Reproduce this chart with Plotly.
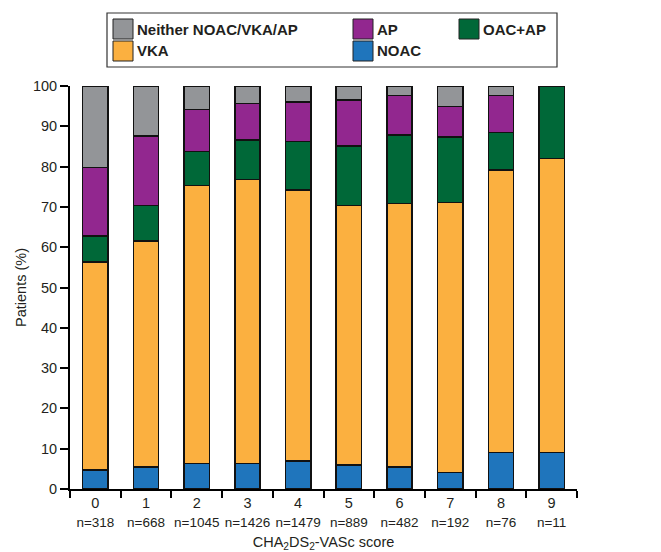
import plotly.graph_objects as go

scores = ["0", "1", "2", "3", "4", "5", "6", "7", "8", "9"]
n_patients = [318, 668, 1045, 1426, 1479, 889, 482, 192, 76, 11]

noac = [4.7, 5.5, 6.3, 6.3, 7.0, 6.0, 5.5, 4.1, 9.1, 9.1]
vka = [51.6, 56.1, 69.0, 70.5, 67.2, 64.3, 65.4, 67.0, 70.1, 72.9]
oac_ap = [6.5, 8.7, 8.4, 9.8, 12.0, 14.8, 16.9, 16.3, 9.3, 18.0]
ap = [17.0, 17.3, 10.5, 9.1, 9.8, 11.4, 9.8, 7.5, 9.1, 0.0]
neither = [20.2, 12.4, 5.8, 4.3, 4.0, 3.5, 2.4, 5.1, 2.4, 0.0]

series = [
    ("NOAC", noac, "#1F75BC"),
    ("VKA", vka, "#FBB040"),
    ("OAC+AP", oac_ap, "#006838"),
    ("AP", ap, "#92278F"),
    ("Neither NOAC/VKA/AP", neither, "#939598"),
]

TXT = "#231F20"
FONT = "Liberation Sans, Arial, sans-serif"

# page body has an 8px margin; the figure is sized to fill the rest of the window
OFF = 8
W, H = 661 - OFF, 552 - OFF
l, r, t, b = 70 - OFF, 84, 86 - OFF, 63
pw, ph = W - l - r, H - t - b

fig = go.Figure()
for name, vals, col in series:
    fig.add_trace(go.Bar(
        x=scores, y=vals, name=name, width=0.5,
        marker=dict(color=col, line=dict(color="#111111", width=1.5)),
        showlegend=False,
    ))

ticktext = [f"{s}<br><span style='font-size:13.5px'>n={n}</span>" for s, n in zip(scores, n_patients)]

fig.update_layout(
    width=W, height=H,
    barmode="stack",
    plot_bgcolor="white", paper_bgcolor="white",
    margin=dict(l=l, r=r, t=t, b=b),
    font=dict(family=FONT, color=TXT, size=14),
    xaxis=dict(
        type="category", categoryorder="array", categoryarray=scores,
        tickmode="array", tickvals=scores, ticktext=ticktext, tickangle=0, automargin=False,
        tickson="boundaries", ticks="outside", ticklen=7, tickwidth=2, tickcolor="black",
        showline=True, linewidth=2, linecolor="black", showgrid=False,
        range=[-0.5, 9.5], tickfont=dict(size=14.5, color=TXT),
        title=dict(text="CHA<sub>2</sub>DS<sub>2</sub>-VASc score", font=dict(size=14.5, color=TXT), standoff=9),
    ),
    yaxis=dict(
        range=[0, 100], tickvals=list(range(0, 101, 10)), automargin=False,
        ticks="outside", ticklen=8, tickwidth=2, tickcolor="black",
        showline=True, linewidth=2, linecolor="black", showgrid=False, zeroline=False,
        tickfont=dict(size=14.5, color=TXT),
        title=dict(text="Patients (%)", font=dict(size=14.5, color=TXT), standoff=3),
    ),
)

# Manual legend: positions given in window pixels
def px(x):
    return (x - OFF - l) / pw

def py(y):
    return (H - b - (y - OFF)) / ph

shapes = [dict(type="rect", xref="paper", yref="paper",
               x0=px(107), x1=px(557), y0=py(67), y1=py(13),
               line=dict(color="#333333", width=1.2), fillcolor="rgba(0,0,0,0)")]
annotations = []
legend_items = [
    ("Neither NOAC/VKA/AP", "#939598", 113, 19),
    ("AP", "#92278F", 353, 19),
    ("OAC+AP", "#006838", 459, 19),
    ("VKA", "#FBB040", 113, 41),
    ("NOAC", "#1F75BC", 353, 41),
]
for name, col, x0, y0 in legend_items:
    shapes.append(dict(type="rect", xref="paper", yref="paper",
                       x0=px(x0), x1=px(x0 + 20), y0=py(y0 + 20), y1=py(y0),
                       line=dict(color="#222222", width=1), fillcolor=col))
    annotations.append(dict(xref="paper", yref="paper", x=px(x0 + 22), y=py(y0 + 10),
                            text=f"<b>{name}</b>", showarrow=False, xanchor="left", yanchor="middle",
                            font=dict(size=15, color=TXT, family=FONT)))
fig.update_layout(shapes=shapes, annotations=annotations)

fig.write_html("out.html")
